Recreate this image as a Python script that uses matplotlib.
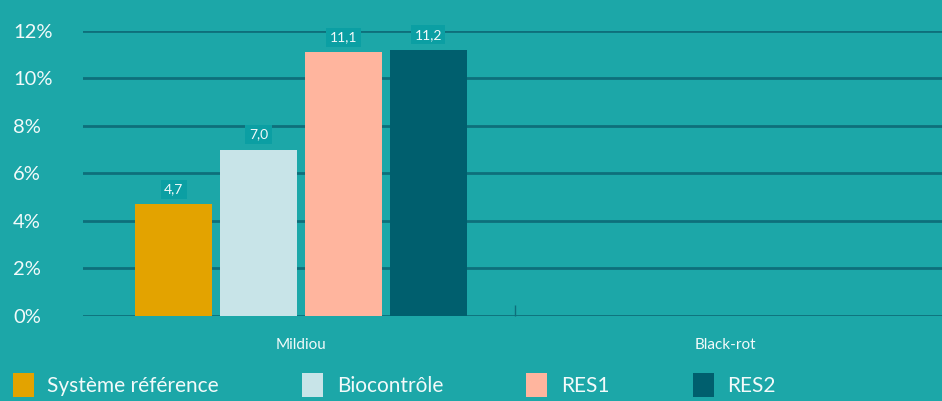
import numpy as np
import matplotlib.pyplot as plt

plt.rcParams['font.family'] = ['Lato', 'DejaVu Sans']

categories = ['Mildiou', 'Black-rot']
series = ['Système référence', 'Biocontrôle', 'RES1', 'RES2']
values = [
    [4.7, 0.0],
    [7.0, 0.0],
    [11.1, 0.0],
    [11.2, 0.0],
]
colors = ['#e3a300', '#c8e4e8', '#ffb59e', '#005f6e']
yticks = [0, 2, 4, 6, 8, 10, 12]

bg = '#1ca7a8'
grid = '#0e6f7b'
txt = '#f2fafa'

fig = plt.figure(figsize=(9.42, 4.01), dpi=100, facecolor=bg)
ax = fig.add_axes([0.0881, 0.212, 0.9119, 0.7107], facecolor=bg)

x = np.arange(len(categories))
width = 0.182
offsets = [-0.3, -0.1, 0.1, 0.3]

for i, name in enumerate(series):
    bars = ax.bar(x + offsets[i], values[i], width, color=colors[i], label=name, zorder=3)
    for rect, v in zip(bars, values[i]):
        if v <= 0:
            continue
        ax.annotate(f'{v:.1f}'.replace('.', ','),
                    (rect.get_x() + rect.get_width() / 2, v),
                    xytext=(0, 11), textcoords='offset points',
                    ha='center', va='center', fontsize=10, color=txt,
                    bbox=dict(boxstyle='square,pad=0.25', fc='#0b9fa3', ec='none'),
                    zorder=5)

ax.set_xlim(-0.514, 1.512)
ax.set_ylim(0, 12)
ax.set_yticks(yticks)
ax.set_yticklabels([f'{t}%' for t in yticks])
ax.yaxis.grid(True, color=grid, lw=2, zorder=1)
ax.set_axisbelow(True)

ax.tick_params(axis='y', length=0, pad=50.4, labelsize=14.5, labelcolor=txt)
for lab in ax.get_yticklabels():
    lab.set_horizontalalignment('left')

ax.set_xticks(x)
ax.set_xticklabels(categories)
ax.tick_params(axis='x', length=0, pad=16, labelsize=11, labelcolor=txt)
ax.set_xticks([0.505], minor=True)
ax.tick_params(axis='x', which='minor', direction='in', length=8, width=1, color=grid)

for s in ax.spines.values():
    s.set_visible(False)

fig.legend(loc='lower left', bbox_to_anchor=(0.005, -0.012), ncol=4, frameon=False,
           fontsize=15, labelcolor=txt, handlelength=1.0, handleheight=1.45,
           handletextpad=0.65, columnspacing=4.0, borderaxespad=0)

fig.savefig('out.png', dpi=100, facecolor=bg)
